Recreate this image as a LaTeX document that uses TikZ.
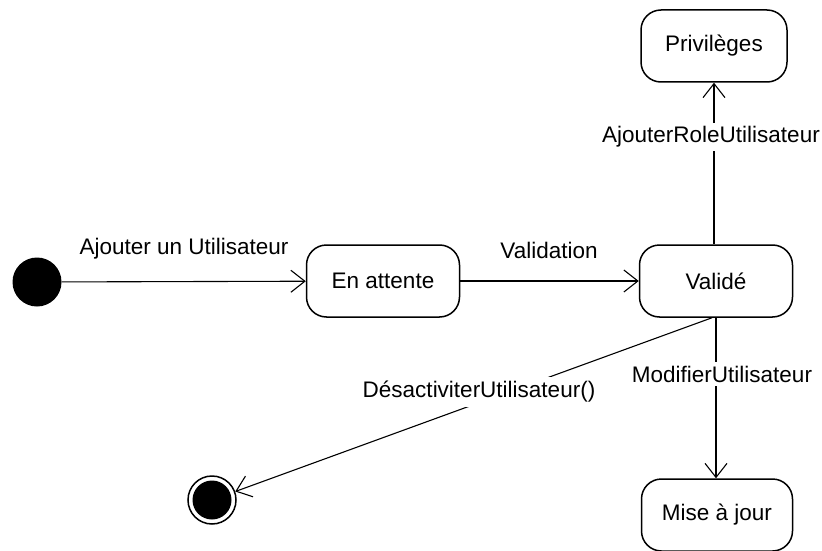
\documentclass[tikz,border=0pt]{standalone}
\usepackage{fontspec}
\setmainfont{Liberation Sans}
\usetikzlibrary{arrows.meta}
\begin{document}
\begin{tikzpicture}[x=1pt,y=-1pt,
  font=\fontsize{22.5}{26}\selectfont,
  state/.style={draw, line width=1.5pt, rounded corners=20pt, minimum height=72pt, inner sep=0pt},
  trans/.style={line width=1.1pt, -{Straight Barb[length=14pt,width=22pt,line width=1.1pt]}},
  lbl/.style={inner xsep=2pt, inner ysep=4pt, fill=white}]
\useasboundingbox (0,0) rectangle (822,551);
% initial and final pseudo-states
\node[circle, fill=black, minimum size=49pt, inner sep=0pt] (init) at (37,282) {};
\node[circle, draw, line width=1.5pt, minimum size=48pt, inner sep=0pt] (fin) at (212,500) {};
\fill (fin) circle (19.5);
% states
\node[state, minimum width=153pt] (att) at (383,281) {En attente};
\node[state, minimum width=153pt] (val) at (716,281) {Validé};
\node[state, minimum width=146pt] (priv) at (714,46) {Privilèges};
\node[state, minimum width=151pt] (maj) at (717,515) {Mise à jour};
% transitions
\draw[trans] (init) -- (att);
\draw[trans] (att) -- (val);
\draw[trans] (val.north -| priv.south) -- (priv.south);
\draw[trans] (val.south) -- (val.south |- maj.north);
\draw[trans] ([xshift=-4pt]val.south) -- (fin);
% labels (drawn over the connectors)
\node[lbl] (l1) at (184,249) {Ajouter un Utilisateur};
\node[lbl] (l2) at (549,250) {Validation};
\node[lbl] (l3) at (711,137) {AjouterRoleUtilisateur};
\node[lbl] (l4) at (722,374) {ModifierUtilisateur};
\node[lbl] (l5) at (479,392) {DésactiviterUtilisateur()};
\end{tikzpicture}
\end{document}
